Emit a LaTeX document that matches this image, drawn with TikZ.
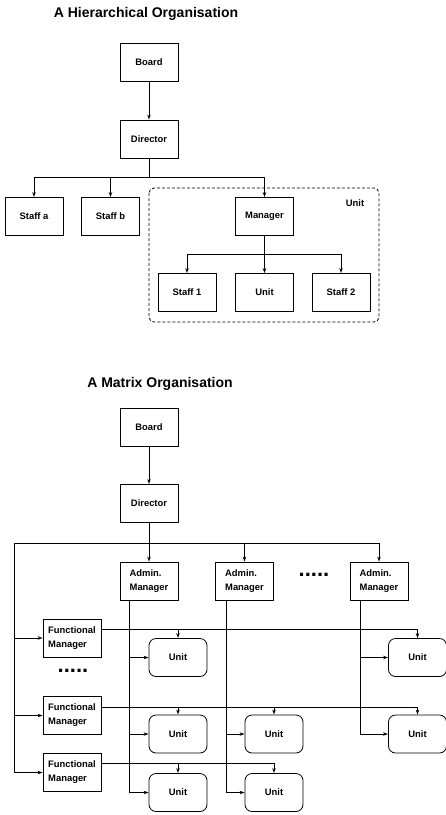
\documentclass[tikz,border=0pt]{standalone}
\usepackage{fontspec}
\setmainfont{Liberation Sans}
\usetikzlibrary{arrows.meta,calc}
\begin{document}
\begin{tikzpicture}[x=1pt,y=-1pt,
  every node/.style={font=\bfseries\fontsize{9.4}{14}\selectfont},
  box/.style={draw,line width=0.8pt,minimum width=58pt,minimum height=38pt,inner sep=0pt,align=left},
  ubox/.style={box,rounded corners=7pt},
  ttl/.style={font=\bfseries\fontsize{14}{16}\selectfont},
  dots/.style={font=\bfseries\fontsize{22}{24}\selectfont,inner sep=0pt},
  ln/.style={line width=0.8pt},
  arr/.style={ln,-{Stealth[open,length=5pt,width=3.5pt,inset=1.5pt]}}]
\useasboundingbox (0,0) rectangle (446,815);

% ---------- Hierarchical ----------
\node[ttl] (t1) at (146,14) {A Hierarchical Organisation};
\node[box] (board) at (149,62) {Board};
\node[box] (dir) at (149,139) {Director};
\node[box] (sa) at (34,216.5) {Staff a};
\node[box] (sb) at (110.5,216.5) {Staff b};
\node[box] (mgr) at (264.5,216.5) {Manager};
\node[box] (s1) at (187,292.5) {Staff 1};
\node[box] (un) at (264.5,292.5) {Unit};
\node[box] (s2) at (341,292.5) {Staff 2};
\draw[ln,dash pattern=on 3pt off 2pt,rounded corners=5pt] (149,188) rectangle (379,322);
\node (unitlbl) at (355,203) {Unit};

\draw[arr] (board) -- (dir);
\coordinate (j1) at (149,177);
\draw[ln] (dir) -- (j1);
\draw[arr] (j1) -| (sa);
\draw[arr] (j1) -| (sb);
\draw[arr] (j1) -| (mgr);
\coordinate (j2) at (264.5,254);
\draw[ln] (mgr) -- (j2);
\draw[arr] (j2) -| (s1);
\draw[arr] (j2) -- (un);
\draw[arr] (j2) -| (s2);

% ---------- Matrix ----------
\node[ttl] (t2) at (160,384) {A Matrix Organisation};
\node[box] (board2) at (149,427.5) {Board};
\node[box] (dir2) at (149,503.5) {Director};
\node[box] (a1) at (149,581) {Admin.\\Manager};
\node[box] (a2) at (244.5,581) {Admin.\\Manager};
\node[box] (a3) at (379,581) {Admin.\\Manager};
\node[dots] (d1) at (314,575) {.....};

\node[box] (f1) at (72,638) {Functional\\Manager};
\node[box] (f2) at (72,715.5) {Functional\\Manager};
\node[box] (f3) at (72,772.5) {Functional\\Manager};
\node[dots] (d2) at (73,671) {.....};

\node[ubox] (u11) at (178,657.5) {Unit};
\node[ubox] (u1r) at (417.5,657.5) {Unit};
\node[ubox] (u21) at (178,734) {Unit};
\node[ubox] (u22) at (274,734) {Unit};
\node[ubox] (u2r) at (417.5,734) {Unit};
\node[ubox] (u31) at (178,792.5) {Unit};
\node[ubox] (u32) at (274,792.5) {Unit};

\draw[arr] (board2) -- (dir2);
\coordinate (b0) at (149,543);
\coordinate (lb) at (14,543);
\draw[ln] (dir2) -- (b0);
\draw[arr] (b0) -- (a1);
\draw[arr] (b0) -| (a2);
\draw[arr] (b0) -| (a3);
\draw[ln] (b0) -- (lb);
\draw[arr] (lb) |- (f1);
\draw[arr] (lb) |- (f2);
\draw[arr] (lb) |- (f3);

% functional manager lines
\coordinate (fl1) at ([yshift=9pt]f1.east);
\coordinate (fl2) at ([yshift=8.5pt]f2.east);
\coordinate (fl3) at ([yshift=9.5pt]f3.east);
\draw[arr] (fl1) -| (u1r);
\draw[arr] (fl1 -| u11) -- (u11);
\draw[arr] (fl2) -| (u2r);
\draw[arr] (fl2 -| u21) -- (u21);
\draw[arr] (fl2 -| u22) -- (u22);
\draw[arr] (fl3) -| (u32);
\draw[arr] (fl3 -| u31) -- (u31);

% admin manager lines
\coordinate (v1) at ([xshift=-20pt]a1.south);
\coordinate (v2) at ([xshift=-18.5pt]a2.south);
\coordinate (v3) at ([xshift=-19pt]a3.south);
\draw[arr] (v1) |- (u31);
\draw[arr] (v1 |- u11) -- (u11);
\draw[arr] (v1 |- u21) -- (u21);
\draw[arr] (v2) |- (u32);
\draw[arr] (v2 |- u22) -- (u22);
\draw[arr] (v3) |- (u2r);
\draw[arr] (v3 |- u1r) -- (u1r);
\end{tikzpicture}
\end{document}
